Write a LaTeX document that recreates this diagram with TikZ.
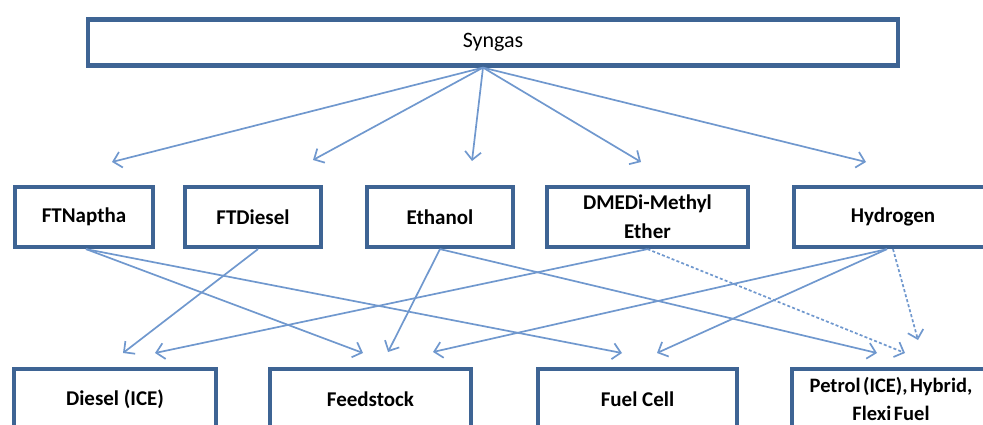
\documentclass[tikz,border=0pt]{standalone}
\usepackage{fontspec}
\setmainfont{Carlito}
\usetikzlibrary{arrows.meta,calc}
\definecolor{boxblue}{RGB}{62,100,148}
\definecolor{arrblue}{RGB}{112,152,206}
\newcommand\tsp{\hspace{2.5pt}}
\tikzset{
  box/.style={draw=boxblue, line width=4.2pt, fill=white, rectangle, align=center,
    inner sep=2pt, font=\fontsize{21}{29}\selectfont\bfseries},
  conn/.style={draw=arrblue, line width=1.7pt,
    -{Straight Barb[length=8pt,width=16pt,line width=1.7pt]}},
  dconn/.style={conn, dash pattern=on 3pt off 2.2pt}
}
\begin{document}
\begin{tikzpicture}[x=1pt,y=-1pt]
\useasboundingbox (0,0) rectangle (983,424);
\clip (0,0) rectangle (983,424);
% top
\node[box, minimum width=810pt, minimum height=46pt, font=\fontsize{22}{26}\selectfont] (syngas) at (493,42.5) {Syngas};
% middle row
\node[box, minimum width=138pt, minimum height=60pt] (ftn) at (84,217) {FTNaptha};
\node[box, minimum width=136pt, minimum height=60pt] (ftd) at (253,217) {FTDiesel};
\node[box, minimum width=146pt, minimum height=60pt] (eth) at (440,217) {Ethanol};
\node[box, minimum width=201pt, minimum height=60pt] (dme) at (647.5,217) {DMEDi-Methyl\\Ether};
\node[box, minimum width=198pt, minimum height=60pt] (hyd) at (893,217) {Hydrogen};
% bottom row
\node[box, minimum width=202pt, minimum height=60pt] (dsl) at (115,399) {Diesel (ICE)};
\node[box, minimum width=201pt, minimum height=60pt] (feed) at (370.5,399) {Feedstock};
\node[box, minimum width=199pt, minimum height=60pt] (fuel) at (637.5,399) {Fuel Cell};
\node[box, minimum width=198pt, minimum height=60pt,
  font=\fontsize{20.5}{28}\selectfont\bfseries] (pet) at (891,399) {Petrol\tsp(ICE),\tsp Hybrid,\\Flexi\tsp Fuel};
% free ends
\coordinate (so) at ([xshift=-10pt]syngas.south);
\coordinate (t1) at (112,162);
\coordinate (t2) at (313,160);
\coordinate (t3) at (472,161);
\coordinate (t4) at (641,162);
\coordinate (t5) at (866,162);
\coordinate (dA) at (123,353);
\coordinate (dB) at (155,353);
\coordinate (fA) at (363,353);
\coordinate (fB) at (388,352);
\coordinate (fC) at (433,352);
\coordinate (cA) at (622,353);
\coordinate (cB) at (657,353);
\coordinate (pA) at (877,353);
\coordinate (pB) at (905,353);
\coordinate (pC) at (918,340);
% syngas arrows
\draw[conn] (so) -- (t1);
\draw[conn] (so) -- (t2);
\draw[conn] (so) -- (t3);
\draw[conn] (so) -- (t4);
\draw[conn] (so) -- (t5);
% lower arrows
\draw[conn] ([xshift=2pt]ftn.south) -- (fA);
\draw[conn] ([xshift=2pt]ftn.south) -- (cA);
\draw[conn] ([xshift=5pt]ftd.south) -- (dA);
\draw[conn] (eth.south) -- (fB);
\draw[conn] (eth.south) -- (pA);
\draw[conn] (dme.south) -- (dB);
\draw[dconn] (dme.south) -- (pB);
\draw[conn] ([xshift=-6pt]hyd.south) -- (fC);
\draw[conn] ([xshift=-6pt]hyd.south) -- (cB);
\draw[dconn] (hyd.south) -- (pC);
\end{tikzpicture}
\end{document}
